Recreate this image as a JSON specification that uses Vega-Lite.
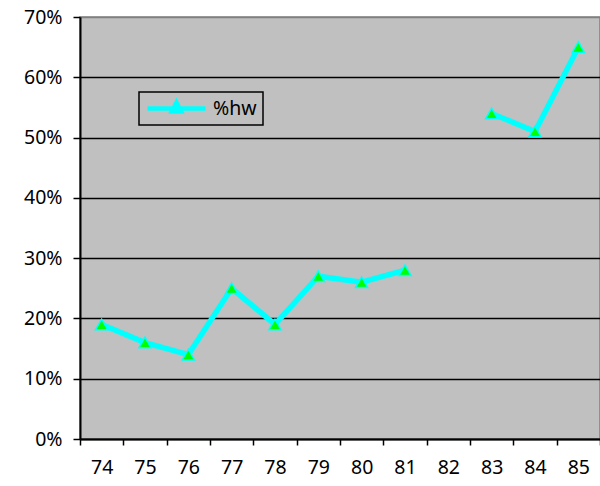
{
  "$schema": "https://vega.github.io/schema/vega-lite/v6.json",
  "width": 520,
  "height": 422,
  "autosize": {"type": "none"},
  "padding": {"left": 80, "top": 17, "right": 0, "bottom": 47},
  "background": "white",
  "config": {
    "view": {"fill": "#C0C0C0", "stroke": "#808080", "strokeWidth": 1.5},
    "font": "Noto Sans"
  },
  "data": {
    "values": [
      {"year": 74, "pct": 0.19},
      {"year": 75, "pct": 0.16},
      {"year": 76, "pct": 0.14},
      {"year": 77, "pct": 0.25},
      {"year": 78, "pct": 0.19},
      {"year": 79, "pct": 0.27},
      {"year": 80, "pct": 0.26},
      {"year": 81, "pct": 0.28},
      {"year": 82, "pct": null},
      {"year": 83, "pct": 0.54},
      {"year": 84, "pct": 0.51},
      {"year": 85, "pct": 0.65}
    ]
  },
  "encoding": {
    "x": {
      "field": "year",
      "type": "ordinal",
      "scale": {"type": "band", "domain": [74, 75, 76, 77, 78, 79, 80, 81, 82, 83, 84, 85], "paddingInner": 0, "paddingOuter": 0},
      "axis": {
        "title": null,
        "tickBand": "extent",
        "labelAngle": 0,
        "labelFontSize": 19.5,
        "labelColor": "black",
        "labelPadding": 13,
        "domainColor": "black",
        "domainWidth": 2,
        "tickColor": "black",
        "tickWidth": 1.5,
        "tickSize": 6,
        "grid": false
      }
    },
    "y": {
      "field": "pct",
      "type": "quantitative",
      "scale": {"domain": [0, 0.7], "nice": false},
      "axis": {
        "title": null,
        "values": [0, 0.1, 0.2, 0.3, 0.4, 0.5, 0.6, 0.7],
        "format": ".0%",
        "labelFontSize": 19.5,
        "labelColor": "black",
        "labelPadding": 11,
        "tickSize": 7,
        "tickColor": "black",
        "tickWidth": 1.5,
        "domainColor": "black",
        "domainWidth": 2,
        "grid": true,
        "gridColor": {"condition": {"test": "datum.value >= 0.69", "value": "#808080"}, "value": "black"},
        "gridWidth": 1.5,
        "gridOpacity": 1
      }
    }
  },
  "layer": [
    {
      "mark": {"type": "line", "strokeWidth": 5.5, "invalid": "break-paths-show-domains"},
      "encoding": {
        "color": {
          "datum": "%hw",
          "type": "nominal",
          "scale": {"range": ["#00FFFF"]},
          "legend": {
            "title": null,
            "orient": "none",
            "legendX": 59,
            "legendY": 75,
            "padding": 6,
            "strokeColor": "black",
            "fillColor": "#C0C0C0",
            "symbolSize": 900,
            "labelFontSize": 19.5,
            "labelColor": "black",
            "labelOffset": 33,
            "clipHeight": 21,
            "labelExpr": "datum.label + '\u00a0\u00a0'",
            "encode": {
              "legend": {"update": {"strokeWidth": {"value": 1.5}}},
              "symbols": {
                "update": {
                  "shape": {"value": "M-1,0H2.87M0.93,-0.4L1.24,0.2L0.62,0.2Z"},
                  "fill": {"value": "#00FF00"},
                  "stroke": {"value": "#00FFFF"},
                  "strokeWidth": {"value": 4.5},
                  "size": {"value": 900},
                  "opacity": {"value": 1}
                }
              }
            }
          }
        }
      }
    },
    {
      "mark": {"type": "point", "shape": "triangle-up", "filled": true, "fill": "#00FF00", "stroke": "#00FFFF", "strokeWidth": 1.5, "size": 150, "opacity": 1}
    }
  ]
}
